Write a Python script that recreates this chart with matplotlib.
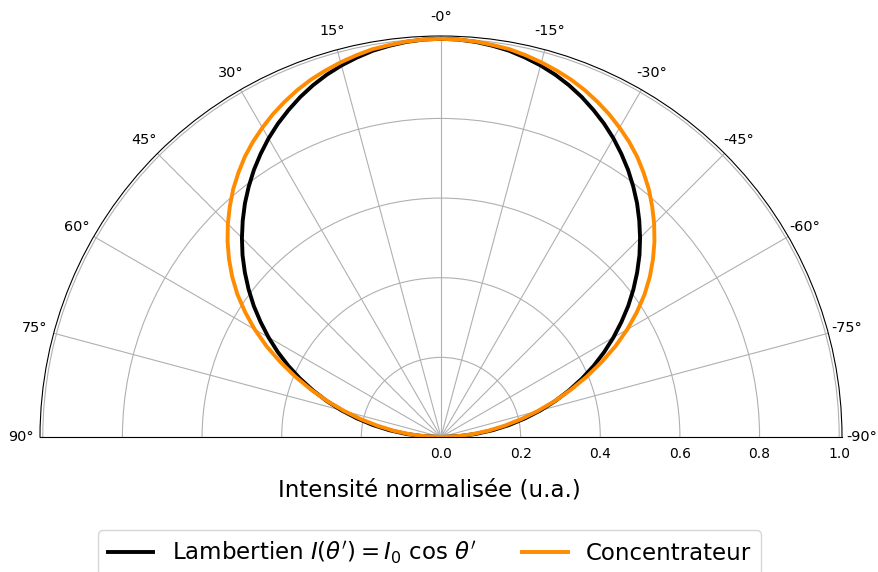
import numpy as np
import matplotlib.pyplot as plt

# angles in degrees on one side (0 = up); the curves are symmetric
angles_deg = [0, 2.5, 5, 7.5, 10, 12.5, 15, 17.5, 20, 22.5, 25, 27.5, 30, 32.5, 35, 37.5, 40, 42.5,
              45, 47.5, 50, 52.5, 55, 57.5, 60, 62.5, 65, 67.5, 70, 72.5, 75, 77.5, 80, 82.5, 85, 87.5, 90]

lambert = [1.000, 0.999, 0.996, 0.991, 0.985, 0.976, 0.966, 0.954, 0.940, 0.924, 0.906, 0.887, 0.866, 0.843,
           0.819, 0.793, 0.766, 0.737, 0.707, 0.676, 0.643, 0.609, 0.574, 0.537, 0.500, 0.462, 0.423, 0.383,
           0.342, 0.301, 0.259, 0.216, 0.174, 0.131, 0.087, 0.044, 0.000]

concentrateur = [1.000, 0.999, 0.997, 0.993, 0.989, 0.982, 0.974, 0.965, 0.955, 0.943, 0.929, 0.914, 0.897, 0.879,
                 0.859, 0.836, 0.812, 0.785, 0.757, 0.727, 0.695, 0.661, 0.624, 0.583, 0.540, 0.494, 0.445, 0.396,
                 0.347, 0.299, 0.251, 0.205, 0.161, 0.119, 0.077, 0.038, 0.000]

theta_ticks = [-90, -75, -60, -45, -30, -15, 0, 15, 30, 45, 60, 75, 90]
theta_labels = ['-90°', '-75°', '-60°', '-45°', '-30°', '-15°', '-0°', '15°', '30°', '45°', '60°', '75°', '90°']
r_ticks = [0.0, 0.2, 0.4, 0.6, 0.8, 1.0]

fig = plt.figure(figsize=(8.79, 5.72), dpi=100)
# square box so the half disc fills 802 px wide, baseline at y=437 px
ax = fig.add_axes([40 / 879, (572 - 637.5) / 572, 802 / 879, 802 / 572], projection='polar')

ax.set_theta_zero_location('N')
ax.set_thetamin(-90)
ax.set_thetamax(90)

# mirror the one-sided readings to cover -90..90
a = np.array(angles_deg)
th = np.deg2rad(np.concatenate([-a[::-1], a[1:]]))
lam = np.concatenate([lambert[::-1], lambert[1:]])
con = np.concatenate([concentrateur[::-1], concentrateur[1:]])

ax.plot(th, lam, color='black', lw=2.8, label=r'Lambertien $I(\theta^\prime) = I_0$ cos $\theta^\prime$')
ax.plot(th, con, color='darkorange', lw=2.8, label='Concentrateur')

ax.set_rlim(0, 1.007)
ax.set_rticks(r_ticks)
ax.set_yticklabels([f'{r:.1f}' for r in r_ticks], fontsize=10.4)
ax.set_thetagrids(theta_ticks, labels=theta_labels, fontsize=10.4)
ax.grid(True, color='#b0b0b0', lw=0.8)

fig.text(429 / 879, 1 - 490 / 572, 'Intensité normalisée (u.a.)', ha='center', va='center', fontsize=16.5)

fig.legend(loc='lower center', bbox_to_anchor=(429.5 / 879, -0.026), ncol=2, fontsize=16.5)

fig.savefig('out.png', dpi=100)
